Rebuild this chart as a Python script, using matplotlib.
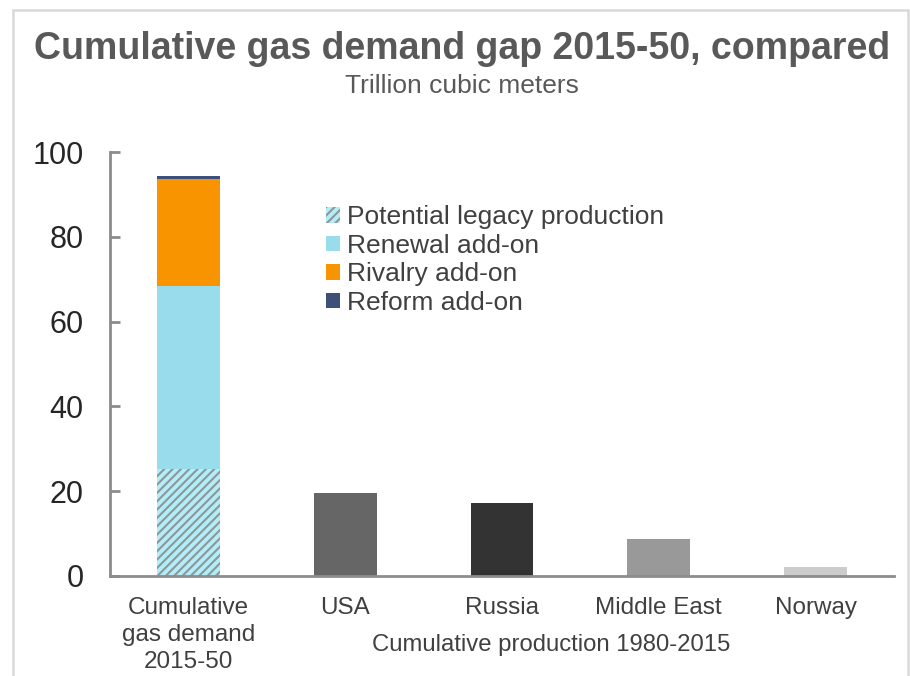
#!/usr/bin/env python3
"""
Cumulative gas demand gap chart.

Stacked bar of the 2015-50 cumulative gas demand (split into legacy
production and the three scenario add-ons), set against the cumulative
1980-2015 production of the main producing regions.
"""

import matplotlib
matplotlib.use("Agg")
import matplotlib.pyplot as plt
from matplotlib.patches import Patch, Rectangle

plt.rcParams['font.family'] = ['Liberation Sans', 'DejaVu Sans']
plt.rcParams['hatch.linewidth'] = 1.5

# Demand gap 2015-50 (trillion cubic meters), stacked bottom to top
demand_label = "Cumulative\ngas demand\n2015-50"
segment_names = ["Potential legacy production", "Renewal add-on",
                 "Rivalry add-on", "Reform add-on"]
segment_values = [25.2, 43.2, 25.4, 0.5]

# Cumulative production 1980-2015 (trillion cubic meters)
producers = ["USA", "Russia", "Middle East", "Norway"]
production = [19.6, 17.1, 8.6, 2.0]

SEGMENT_COLORS = ["#b3eef8", "#99dcec", "#f79400", "#3e5079"]
PRODUCER_COLORS = ["#666666", "#333333", "#999999", "#cccccc"]
HATCH_COLOR = "#8c979a"
AXIS_COLOR = "#8c8c8c"
TEXT_COLOR = "#404040"
TITLE_COLOR = "#595959"


def draw_chart(output_file="out.png"):
    fig = plt.figure(figsize=(9.1, 6.76), dpi=100)
    ax = fig.add_axes([0.1209, 0.1484, 0.8615, 0.6263])

    bar_width = 0.4
    labels = [demand_label] + producers
    positions = list(range(len(labels)))

    # Stacked demand bar, legacy part hatched
    bottom = 0
    handles = []
    for i, (name, value) in enumerate(zip(segment_names, segment_values)):
        hatch = "////" if i == 0 else None
        ax.bar(positions[0], value, bar_width, bottom=bottom,
               color=SEGMENT_COLORS[i], edgecolor=HATCH_COLOR,
               hatch=hatch, linewidth=0)
        handles.append(Patch(facecolor=SEGMENT_COLORS[i], edgecolor=HATCH_COLOR,
                             hatch=hatch, linewidth=0, label=name))
        bottom += value

    # Historic production bars
    ax.bar(positions[1:], production, bar_width, color=PRODUCER_COLORS, linewidth=0)

    ax.set_xlim(-0.5, 4.5)
    ax.set_ylim(0, 100)
    ax.set_yticks([0, 20, 40, 60, 80, 100])
    ax.set_xticks(positions)
    ax.set_xticklabels(labels, fontsize=17.5, color=TEXT_COLOR, linespacing=1.28)

    for side in ("top", "right"):
        ax.spines[side].set_visible(False)
    for side in ("left", "bottom"):
        ax.spines[side].set_color(AXIS_COLOR)
        ax.spines[side].set_linewidth(2)
    ax.tick_params(axis="y", direction="in", length=7, width=2, color=AXIS_COLOR,
                   labelsize=22, labelcolor="#262626", pad=19)
    ax.tick_params(axis="x", length=0, pad=15.5)

    ax.legend(handles=handles, loc="upper left", bbox_to_anchor=(0.2755, 0.875),
              frameon=False, fontsize=19, labelcolor=TEXT_COLOR,
              handlelength=0.53, handleheight=0.53, handletextpad=0.27,
              labelspacing=0.17, borderpad=0, borderaxespad=0)

    fig.text(0.5077, 0.928, "Cumulative gas demand gap 2015-50, compared",
             ha="center", va="center", fontsize=27, fontweight="bold",
             color=TITLE_COLOR)
    fig.text(0.5077, 0.873, "Trillion cubic meters", ha="center", va="center",
             fontsize=19, color=TITLE_COLOR)
    fig.text(0.606, 0.046, "Cumulative production 1980-2015", ha="center",
             va="center", fontsize=17.2, color=TEXT_COLOR)

    # Light frame round the chart, open at the bottom
    fig.patches.append(Rectangle((13 / 910, -0.05), 895 / 910, 1.05 - 10 / 676,
                                 transform=fig.transFigure, fill=False,
                                 edgecolor="#d9d9d9", linewidth=1.8))

    fig.savefig(output_file, dpi=100)


if __name__ == "__main__":
    draw_chart()
